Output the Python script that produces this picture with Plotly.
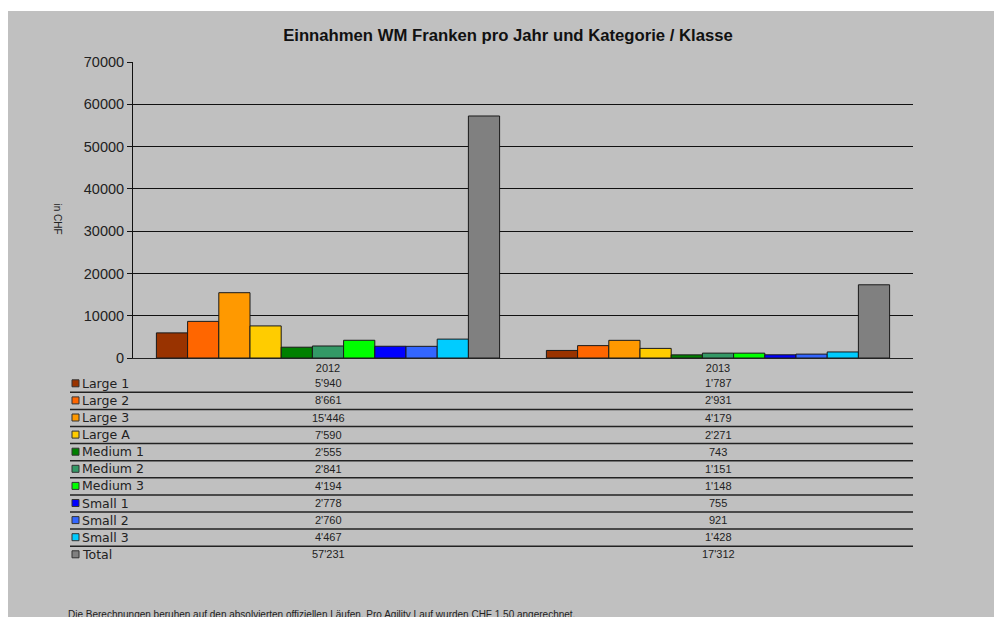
import plotly.graph_objects as go

years = ["2012", "2013"]
series_names = ["Large 1", "Large 2", "Large 3", "Large A", "Medium 1", "Medium 2",
                "Medium 3", "Small 1", "Small 2", "Small 3", "Total"]
values_2012 = [5940, 8661, 15446, 7590, 2555, 2841, 4194, 2778, 2760, 4467, 57231]
values_2013 = [1787, 2931, 4179, 2271, 743, 1151, 1148, 755, 921, 1428, 17312]
colors = ["#993300", "#FF6600", "#FF9900", "#FFCC00", "#008000", "#339966",
          "#00FF00", "#0000FF", "#3366FF", "#00CCFF", "#808080"]
y_ticks = [0, 10000, 20000, 30000, 40000, 50000, 60000, 70000]

W, H = 994, 617
L, R, T, B = 133, 913, 62, 358          # plot area in page pixels
FONT = "Arial, Liberation Sans, sans-serif"
WIDE = "DejaVu Sans, sans-serif"


def px_x(x):
    return (x - L) / (R - L)


def px_y(y):
    return (B - y) / (B - T)


def fmt(v):
    return f"{v:,}".replace(",", "'")


fig = go.Figure()
for i, name in enumerate(series_names):
    fig.add_trace(go.Bar(
        x=years, y=[values_2012[i], values_2013[i]], name=name,
        marker=dict(color=colors[i], line=dict(color="#1a1a1a", width=1)),
        showlegend=False,
    ))

shapes = [
    # white strips at top and left of the page
    dict(type="rect", xref="paper", yref="paper",
         x0=px_x(-5), x1=px_x(1010), y0=px_y(11), y1=px_y(-5),
         fillcolor="white", line=dict(width=0), layer="below"),
    dict(type="rect", xref="paper", yref="paper",
         x0=px_x(-5), x1=px_x(8), y0=px_y(630), y1=px_y(-5),
         fillcolor="white", line=dict(width=0), layer="below"),
]
annotations = []

# y-axis title (reads top to bottom)
annotations.append(dict(text="in CHF", xref="paper", yref="paper",
                        x=px_x(50), y=px_y(219), textangle=90, showarrow=False,
                        font=dict(family=FONT, size=10, color="#222222")))

# data table
row0 = 383.3
row_h = 17.1
for i, name in enumerate(series_names):
    yc = row0 + i * row_h
    shapes.append(dict(type="rect", xref="paper", yref="paper",
                       x0=px_x(72), x1=px_x(79), y0=px_y(yc + 3.5), y1=px_y(yc - 3.5),
                       fillcolor=colors[i], line=dict(color="#333333", width=1)))
    annotations.append(dict(text=name, xref="paper", yref="paper",
                            x=px_x(79.5), y=px_y(yc), xanchor="left", yanchor="middle",
                            showarrow=False, font=dict(family=WIDE, size=12.5, color="#222222")))
    for j, vals in enumerate([values_2012, values_2013]):
        annotations.append(dict(text=fmt(vals[i]), xref="x", yref="paper",
                                x=j, y=px_y(yc), xanchor="center", yanchor="middle",
                                showarrow=False, font=dict(family=FONT, size=11, color="#222222")))
    if i < len(series_names) - 1:
        ly = yc + 9
        shapes.append(dict(type="line", xref="paper", yref="paper",
                           x0=px_x(70), x1=px_x(913), y0=px_y(ly), y1=px_y(ly),
                           line=dict(color="#222222", width=1.5)))

# footnote (cut off at the bottom, as in the source)
annotations.append(dict(text="Die Berechnungen beruhen auf den absolvierten offiziellen Läufen. "
                             "Pro Agility Lauf wurden CHF 1.50 angerechnet.",
                        xref="paper", yref="paper", x=px_x(66), y=px_y(607),
                        xanchor="left", yanchor="top", showarrow=False,
                        font=dict(family=FONT, size=10, color="#222222")))

fig.update_layout(
    width=W, height=H,
    margin=dict(l=L, r=W - R, t=T, b=H - B, pad=0),
    paper_bgcolor="#C0C0C0", plot_bgcolor="#C0C0C0",
    title=dict(text="<b>Einnahmen WM Franken pro Jahr und Kategorie / Klasse</b>",
               xref="paper", x=px_x(508), xanchor="center",
               yref="container", y=1 - 35 / H, yanchor="middle",
               font=dict(family=FONT, size=16.7, color="#111111")),
    barmode="group", bargap=0.12, bargroupgap=0,
    shapes=shapes, annotations=annotations,
    font=dict(family=FONT),
)
fig.update_xaxes(type="category", range=[-0.5, 1.5], showline=True,
                 linecolor="#222222", linewidth=1,
                 ticks="", tickfont=dict(family=FONT, size=11, color="#222222"),
                 showgrid=False)
fig.update_yaxes(range=[0, 70000], tickvals=y_ticks, tickformat="d",
                 showgrid=True, gridcolor="#111111", gridwidth=1,
                 showline=True, linecolor="#111111", linewidth=1,
                 ticks="outside", ticklen=5, tickcolor="#111111",
                 zeroline=True, zerolinecolor="#111111", zerolinewidth=1,
                 tickfont=dict(family=FONT, size=14.5, color="#222222"))

fig.write_html("out.html",
               config={"displayModeBar": False},
               post_script="document.body.style.margin='0';"
                           "document.body.style.overflow='hidden';")
